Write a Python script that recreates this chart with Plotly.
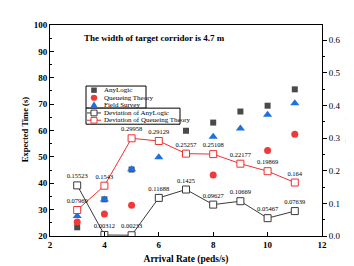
import plotly.graph_objects as go

# ---- data ----
arrival_rate = [3, 4, 5, 6, 7, 8, 9, 10, 11]
anylogic = [23.3, 33.9, 45.2, 56.0, 59.9, 63.0, 67.2, 69.4, 75.6]
queueing = [25.3, 28.3, 31.7, 34.6, 37.6, 43.1, 47.5, 52.4, 58.6]
field_survey = [27.6, 33.8, 45.3, 49.9, 51.3, 57.6, 60.8, 66.0, 70.3]
dev_anylogic = [0.15523, 0.00312, 0.00233, 0.11688, 0.1425, 0.09627, 0.10669, 0.05467, 0.07639]
dev_queueing = [0.07969, 0.1543, 0.29958, 0.29129, 0.25257, 0.25108, 0.22177, 0.19869, 0.164]
dev_anylogic_labels = ["0.15523", "0.00312", "0.00233", "0.11688", "0.1425", "0.09627", "0.10669", "0.05467", "0.07639"]
dev_queueing_labels = ["0.07969", "0.1543", "0.29958", "0.29129", "0.25257", "0.25108", "0.22177", "0.19869", "0.164"]

SERIF = "Liberation Serif, Times New Roman, serif"
C_AL = "#4a4a4a"
C_QT = "#f03a3a"
C_FS = "#1f6fe0"
C_DAL = "#3a3a3a"
C_DQT = "#f03030"

W, H = 354, 266
L, R, T, B = 42, 40, 13.5, 33
PW = W - L - R
PH = H - T - B

fig = go.Figure()
fig.add_trace(go.Scatter(x=arrival_rate, y=anylogic, mode="markers", name="AnyLogic",
                         marker=dict(symbol="square", size=6, color=C_AL)))
fig.add_trace(go.Scatter(x=arrival_rate, y=queueing, mode="markers", name="Queueing Theory",
                         marker=dict(symbol="circle", size=7, color=C_QT)))
fig.add_trace(go.Scatter(x=arrival_rate, y=field_survey, mode="markers", name="Field Survey",
                         marker=dict(symbol="triangle-up", size=8, color=C_FS)))
fig.add_trace(go.Scatter(x=arrival_rate, y=dev_anylogic, yaxis="y2", mode="lines+markers+text",
                         name="Deviation of AnyLogic", text=dev_anylogic_labels,
                         textposition="top center",
                         textfont=dict(family=SERIF, size=6.5, color="black"),
                         line=dict(color=C_DAL, width=1),
                         marker=dict(symbol="square", size=7, color="white",
                                     line=dict(color=C_DAL, width=1))))
fig.add_trace(go.Scatter(x=arrival_rate, y=dev_queueing, yaxis="y2", mode="lines+markers+text",
                         name="Deviation of Queueing Theory", text=dev_queueing_labels,
                         textposition="top center",
                         textfont=dict(family=SERIF, size=6.5, color="black"),
                         line=dict(color=C_DQT, width=1),
                         marker=dict(symbol="square", size=7, color="white",
                                     line=dict(color=C_DQT, width=1))))


def px(x):
    return (x - L) / PW


def py(y):
    return (H - B - y) / PH


shapes = []
annotations = []

# legend boxes
shapes.append(dict(type="rect", xref="paper", yref="paper", x0=px(78), x1=px(138), y0=py(100), y1=py(77),
                   line=dict(color="black", width=1), fillcolor="white", layer="above"))
shapes.append(dict(type="rect", xref="paper", yref="paper", x0=px(78), x1=px(172), y0=py(116.7), y1=py(100),
                   line=dict(color="black", width=1), fillcolor="white", layer="above"))

legend_items = [
    ("AnyLogic", 81.3), ("Queueing Theory", 89.0), ("Field Survey", 96.4),
    ("Deviation of AnyLogic", 104.6), ("Deviation of Queueing Theory", 112.4),
]
# symbols
sx = 86
shapes.append(dict(type="rect", xref="paper", yref="paper", x0=px(sx - 2.8), x1=px(sx + 2.8),
                   y0=py(81.3 + 2.8), y1=py(81.3 - 2.8), line=dict(width=0), fillcolor=C_AL, layer="above"))
shapes.append(dict(type="circle", xref="paper", yref="paper", x0=px(sx - 3.2), x1=px(sx + 3.2),
                   y0=py(89.2 + 3.2), y1=py(89.2 - 3.2), line=dict(width=0), fillcolor=C_QT, layer="above"))
shapes.append(dict(type="path", xref="paper", yref="paper",
                   path="M {} {} L {} {} L {} {} Z".format(px(sx - 3.8), py(96.6 + 3), px(sx + 3.8), py(96.6 + 3),
                                                        px(sx), py(96.6 - 3.8)),
                   line=dict(width=0), fillcolor=C_FS, layer="above"))
for col, yy in ((C_DAL, 105), (C_DQT, 112.6)):
    shapes.append(dict(type="line", xref="paper", yref="paper", x0=px(79), x1=px(93), y0=py(yy), y1=py(yy),
                       line=dict(color=col, width=1), layer="above"))
    shapes.append(dict(type="rect", xref="paper", yref="paper", x0=px(sx - 3), x1=px(sx + 3),
                       y0=py(yy + 3), y1=py(yy - 3), line=dict(color=col, width=1), fillcolor="white",
                       layer="above"))
for label, yy in legend_items:
    annotations.append(dict(text=label, xref="paper", yref="paper", x=px(94), y=py(yy), xanchor="left",
                            yanchor="middle", showarrow=False,
                            font=dict(family=SERIF, size=7, color="black")))

annotations.append(dict(text="<b>The width of target corridor is 4.7 m</b>", xref="paper", yref="paper",
                        x=px(146), y=py(27), xanchor="center", yanchor="middle", showarrow=False,
                        font=dict(family=SERIF, size=9, color="black")))
# axis titles
annotations.append(dict(text="<b>Expected Time (s)</b>", xref="paper", yref="paper",
                        x=px(17), y=py(123), xanchor="center", yanchor="middle", showarrow=False,
                        textangle=-90, font=dict(family=SERIF, size=8.5, color="black")))
annotations.append(dict(text="<b>Deviation</b>", xref="paper", yref="paper",
                        x=px(341), y=py(119), xanchor="center", yanchor="middle", showarrow=False,
                        textangle=-90, font=dict(family=SERIF, size=8.5, color="black")))

fig.update_layout(
    width=W, height=H,
    margin=dict(l=L, r=R, t=T, b=B, pad=0),
    paper_bgcolor="white", plot_bgcolor="white",
    showlegend=False,
    font=dict(family=SERIF, color="black"),
    shapes=shapes, annotations=annotations,
    xaxis=dict(range=[2, 12], dtick=2, tick0=2, showgrid=False, zeroline=False,
               showline=True, linecolor="black", linewidth=1, mirror=True,
               ticks="inside", ticklen=4, tickcolor="black",
               tickfont=dict(family=SERIF, size=9, color="black", weight="bold"),
               title=dict(text="<b>Arrival Rate (peds/s)</b>", font=dict(family=SERIF, size=9.5), standoff=6)),
    yaxis=dict(range=[20, 100], dtick=10, showgrid=False, zeroline=False,
               showline=True, linecolor="black", linewidth=1, mirror=True,
               ticks="inside", ticklen=4, tickcolor="black",
               minor=dict(dtick=5, ticks="inside", ticklen=2, tickcolor="black"),
               tickfont=dict(family=SERIF, size=9, color="black", weight="bold")),
    yaxis2=dict(range=[0, 0.647], dtick=0.1, tickformat=".1f", overlaying="y", side="right",
                showgrid=False, zeroline=False, showline=True, linecolor="black", linewidth=1,
                ticks="outside", ticklen=4, tickcolor="black",
                minor=dict(dtick=0.05, ticks="outside", ticklen=2, tickcolor="black"),
                tickfont=dict(family=SERIF, size=9, color="black")),
)

fig.write_html("out.html")
